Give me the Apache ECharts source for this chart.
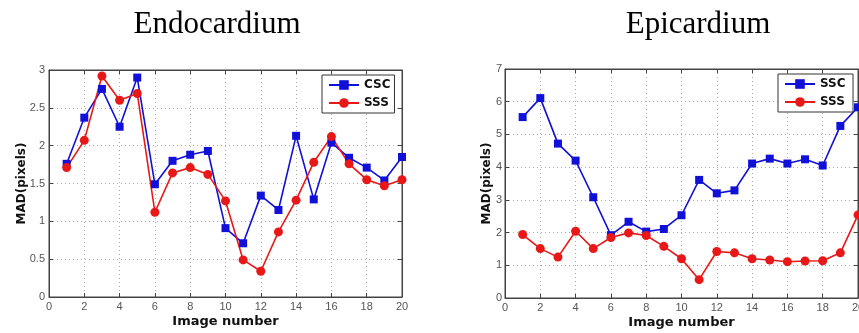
<!DOCTYPE html>
<html>
<head>
<meta charset="utf-8">
<script src="https://cdn.jsdelivr.net/npm/echarts@6/dist/echarts.min.js"></script>
<style>html,body{margin:0;padding:0;background:#fff;}#c{width:859px;height:333px;}</style>
</head>
<body>
<div id="c"></div>
<script>
const imageNumbers = [1,2,3,4,5,6,7,8,9,10,11,12,13,14,15,16,17,18,19,20];
const endoCSC = [1.76,2.37,2.75,2.25,2.90,1.49,1.80,1.88,1.93,0.91,0.71,1.34,1.15,2.13,1.29,2.04,1.84,1.71,1.54,1.85];
const endoSSS = [1.71,2.07,2.92,2.60,2.69,1.12,1.64,1.71,1.62,1.27,0.49,0.34,0.86,1.28,1.78,2.12,1.76,1.55,1.47,1.55];
const epiSSC = [5.53,6.11,4.72,4.20,3.08,1.92,2.33,2.03,2.11,2.53,3.61,3.20,3.29,4.11,4.26,4.11,4.24,4.05,5.26,5.83];
const epiSSS = [1.94,1.51,1.25,2.04,1.51,1.85,1.99,1.91,1.58,1.20,0.56,1.42,1.38,1.20,1.16,1.11,1.13,1.14,1.38,2.54];
const titles = ['Endocardium','Epicardium'];
const xName = 'Image number';
const yName = 'MAD(pixels)';

const BLUE = '#1010d8', RED = '#e81818';
const pairs = (arr) => arr.map((v,i)=>[imageNumbers[i], v]);

const grids = [
  {left:49, top:70, width:353, height:227},
  {left:505, top:69, width:353, height:229}
];
const tickLabel = {color:'#555', fontSize:11, fontFamily:'Liberation Sans', margin:4};
const splitLine = {show:true, lineStyle:{color:'#aaa', type:[1,3], width:1}};

function xAxes(gi){
  return [
    {type:'value', gridIndex:gi, min:0, max:20, interval:2, position:'bottom',
     axisLine:{show:true, onZero:false, lineStyle:{color:'#444'}},
     axisTick:{show:true, inside:true, length:4, lineStyle:{color:'#444'}},
     axisLabel:tickLabel, splitLine:splitLine,
     name:xName, nameLocation:'middle', nameGap:18, nameMoveOverlap:false,
     nameTextStyle:{fontFamily:'DejaVu Sans', fontWeight:'bold', fontSize:13, color:'#111'}},
    {type:'value', gridIndex:gi, min:0, max:20, interval:2, position:'top',
     axisLine:{show:true, onZero:false, lineStyle:{color:'#444'}},
     axisTick:{show:true, inside:true, length:4, lineStyle:{color:'#444'}},
     axisLabel:{show:false}, splitLine:{show:false}}
  ];
}
function yAxes(gi, max, nameGap, margin){
  return [
    {type:'value', gridIndex:gi, min:0, max:max, interval: max===3?0.5:1, position:'left',
     axisLine:{show:true, onZero:false, lineStyle:{color:'#444'}},
     axisTick:{show:true, inside:true, length:4, lineStyle:{color:'#444'}},
     axisLabel:Object.assign({}, tickLabel, {margin:margin}), splitLine:splitLine,
     name:yName, nameLocation:'middle', nameGap:nameGap, nameMoveOverlap:false,
     nameTextStyle:{fontFamily:'DejaVu Sans', fontWeight:'bold', fontSize:12, color:'#111'}},
    {type:'value', gridIndex:gi, min:0, max:max, interval: max===3?0.5:1, position:'right',
     axisLine:{show:true, onZero:false, lineStyle:{color:'#444'}},
     axisTick:{show:true, inside:true, length:4, lineStyle:{color:'#444'}},
     axisLabel:{show:false}, splitLine:{show:false}}
  ];
}

function series(name, data, color, symbol, size, xi, yi){
  return {type:'line', name:name, data:pairs(data), xAxisIndex:xi, yAxisIndex:yi,
    symbol:symbol, symbolSize:size, showAllSymbol:true,
    lineStyle:{color:color, width:1.6}, itemStyle:{color:color},
    emphasis:{disabled:true}, animation:false};
}

const legendCommon = {orient:'vertical', itemWidth:30, itemHeight:12, itemGap:6,
  backgroundColor:'#fff', borderColor:'#333', borderWidth:1, padding:[4,4,4,6],
  textStyle:{fontFamily:'DejaVu Sans', fontWeight:'bold', fontSize:12, color:'#111'}};

const option = {
  animation:false,
  title:[
    {text:titles[0], left:212, top:4, textAlign:'center', textStyle:{fontFamily:'Liberation Serif', fontWeight:'normal', fontSize:31, color:'#000'}},
    {text:titles[1], left:693, top:4, textAlign:'center', textStyle:{fontFamily:'Liberation Serif', fontWeight:'normal', fontSize:31, color:'#000'}}
  ],
  grid:grids.map(g=>Object.assign({show:true, borderColor:'#444', borderWidth:1, backgroundColor:'#fff', outerBoundsMode:'none', containLabel:false}, g)),
  xAxis:[...xAxes(0), ...xAxes(1)],
  yAxis:[...yAxes(0,3,21,4), ...yAxes(1,7,12,3)],
  legend:[
    Object.assign({}, legendCommon, {left:322, top:75, data:['CSC','SSS']}),
    Object.assign({}, legendCommon, {left:778, top:74, data:['SSC','SSS ']})
  ],
  series:[
    series('CSC', endoCSC, BLUE, 'rect', 8, 0, 0),
    series('SSS', endoSSS, RED, 'circle', 9, 0, 0),
    series('SSC', epiSSC, BLUE, 'rect', 8, 2, 2),
    series('SSS ', epiSSS, RED, 'circle', 9, 2, 2)
  ]
};
const chart = echarts.init(document.getElementById('c'), null, {renderer:'canvas'});
chart.setOption(option);
</script>
</body>
</html>
